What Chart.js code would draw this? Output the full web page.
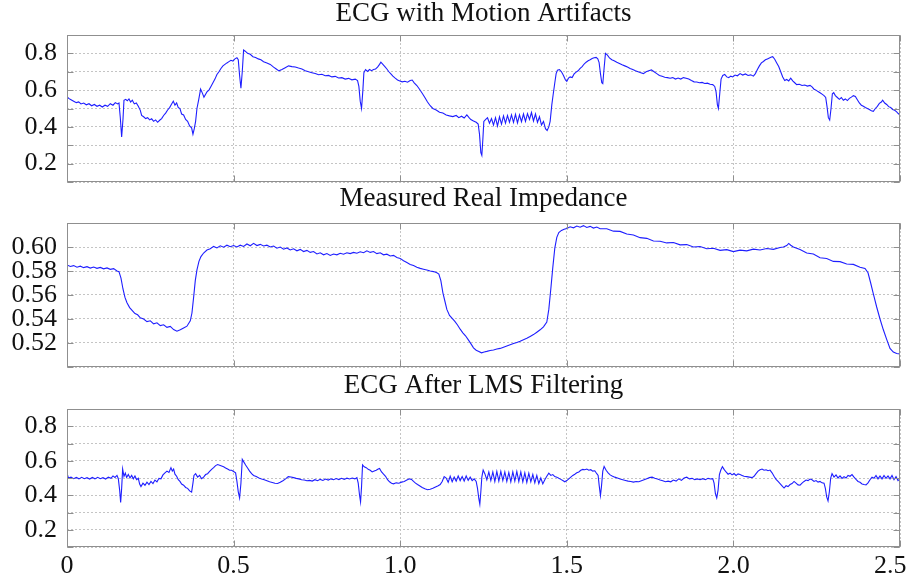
<!DOCTYPE html>
<html>
<head>
<meta charset="utf-8">
<script src="https://cdn.jsdelivr.net/npm/chart.js@4.4.1/dist/chart.umd.min.js"></script>
<style>
  html, body { margin: 0; padding: 0; background: #fff; }
  body { width: 913px; height: 588px; position: relative; overflow: hidden; }
  canvas { position: absolute; left: 0; }
</style>
</head>
<body>
<canvas id="rawChart" width="913" height="185" style="top:0px"></canvas>
<canvas id="impChart" width="913" height="185" style="top:185px"></canvas>
<canvas id="lmsChart" width="913" height="216" style="top:372px"></canvas>
<script>
// ECG with motion artifacts (time in s)
const rawTime = [0.000,0.005,0.012,0.020,0.028,0.035,0.042,0.050,0.058,0.066,0.074,0.082,0.090,0.098,0.106,0.114,0.122,0.130,0.138,0.145,0.152,0.156,0.160,0.164,0.168,0.171,0.176,0.181,0.186,0.191,0.196,0.202,0.208,0.214,0.220,0.224,0.230,0.236,0.242,0.248,0.254,0.260,0.266,0.272,0.278,0.284,0.290,0.296,0.302,0.308,0.314,0.319,0.324,0.329,0.334,0.339,0.344,0.350,0.356,0.362,0.368,0.374,0.378,0.382,0.386,0.390,0.395,0.401,0.406,0.411,0.416,0.420,0.426,0.432,0.438,0.444,0.450,0.456,0.462,0.468,0.474,0.480,0.486,0.492,0.498,0.504,0.510,0.514,0.518,0.522,0.526,0.530,0.535,0.542,0.550,0.558,0.566,0.574,0.582,0.590,0.600,0.610,0.620,0.628,0.636,0.645,0.655,0.665,0.675,0.685,0.695,0.705,0.715,0.725,0.735,0.745,0.755,0.765,0.775,0.785,0.795,0.805,0.815,0.825,0.835,0.845,0.855,0.865,0.872,0.876,0.880,0.884,0.888,0.891,0.896,0.902,0.908,0.914,0.920,0.926,0.932,0.938,0.942,0.948,0.954,0.960,0.966,0.972,0.978,0.985,0.992,0.999,1.006,1.014,1.022,1.030,1.036,1.042,1.050,1.058,1.066,1.074,1.082,1.090,1.098,1.108,1.118,1.128,1.138,1.148,1.158,1.168,1.176,1.184,1.192,1.200,1.206,1.212,1.220,1.228,1.234,1.238,1.242,1.245,1.248,1.251,1.256,1.262,1.268,1.274,1.280,1.286,1.292,1.298,1.304,1.310,1.316,1.322,1.328,1.334,1.340,1.346,1.352,1.358,1.364,1.370,1.376,1.382,1.388,1.394,1.400,1.406,1.412,1.418,1.424,1.430,1.436,1.441,1.446,1.450,1.455,1.459,1.464,1.468,1.472,1.478,1.484,1.490,1.496,1.500,1.505,1.510,1.516,1.522,1.528,1.534,1.540,1.546,1.552,1.558,1.564,1.570,1.576,1.582,1.588,1.593,1.597,1.601,1.605,1.608,1.612,1.616,1.622,1.628,1.635,1.642,1.650,1.658,1.666,1.674,1.682,1.690,1.698,1.706,1.714,1.722,1.730,1.738,1.746,1.754,1.762,1.770,1.778,1.786,1.794,1.802,1.810,1.818,1.826,1.834,1.842,1.850,1.858,1.866,1.874,1.882,1.890,1.898,1.906,1.914,1.922,1.930,1.938,1.944,1.948,1.952,1.955,1.959,1.963,1.968,1.974,1.980,1.986,1.992,1.998,2.005,2.012,2.020,2.028,2.036,2.044,2.052,2.060,2.066,2.072,2.078,2.084,2.090,2.096,2.102,2.108,2.114,2.118,2.124,2.130,2.136,2.142,2.148,2.154,2.160,2.166,2.172,2.178,2.184,2.190,2.198,2.206,2.214,2.222,2.230,2.236,2.242,2.248,2.254,2.260,2.266,2.272,2.277,2.281,2.285,2.289,2.293,2.297,2.301,2.306,2.312,2.318,2.324,2.330,2.336,2.342,2.348,2.354,2.360,2.366,2.372,2.378,2.384,2.390,2.396,2.402,2.408,2.414,2.420,2.426,2.432,2.438,2.444,2.448,2.454,2.460,2.466,2.472,2.478,2.484,2.490,2.496,2.500];
const rawEcg = [0.565,0.555,0.548,0.540,0.532,0.536,0.525,0.530,0.520,0.526,0.515,0.522,0.512,0.518,0.508,0.518,0.512,0.526,0.518,0.532,0.525,0.530,0.450,0.345,0.440,0.545,0.550,0.542,0.552,0.535,0.545,0.525,0.530,0.512,0.490,0.462,0.455,0.445,0.450,0.438,0.444,0.430,0.438,0.425,0.436,0.445,0.462,0.475,0.492,0.505,0.525,0.540,0.518,0.530,0.505,0.500,0.470,0.465,0.440,0.430,0.405,0.395,0.360,0.390,0.430,0.500,0.545,0.605,0.585,0.562,0.578,0.590,0.600,0.620,0.640,0.660,0.685,0.700,0.718,0.732,0.740,0.748,0.755,0.762,0.758,0.770,0.776,0.765,0.680,0.610,0.700,0.818,0.812,0.800,0.795,0.782,0.778,0.770,0.765,0.755,0.748,0.740,0.725,0.715,0.705,0.712,0.722,0.732,0.728,0.726,0.720,0.715,0.706,0.700,0.695,0.690,0.684,0.686,0.678,0.680,0.672,0.675,0.666,0.668,0.660,0.664,0.656,0.660,0.652,0.620,0.540,0.500,0.600,0.695,0.712,0.702,0.712,0.706,0.712,0.715,0.725,0.740,0.752,0.740,0.728,0.715,0.700,0.688,0.676,0.665,0.655,0.650,0.645,0.648,0.643,0.652,0.655,0.640,0.625,0.605,0.583,0.560,0.535,0.515,0.500,0.492,0.480,0.475,0.465,0.460,0.456,0.462,0.450,0.458,0.448,0.465,0.452,0.440,0.432,0.425,0.415,0.360,0.260,0.245,0.330,0.430,0.440,0.450,0.420,0.445,0.410,0.450,0.405,0.455,0.415,0.460,0.420,0.462,0.425,0.465,0.425,0.468,0.422,0.465,0.428,0.470,0.430,0.472,0.440,0.478,0.432,0.470,0.425,0.455,0.410,0.430,0.390,0.380,0.400,0.430,0.520,0.575,0.640,0.690,0.708,0.712,0.700,0.680,0.655,0.648,0.665,0.672,0.668,0.688,0.698,0.705,0.718,0.728,0.742,0.752,0.760,0.765,0.772,0.776,0.778,0.770,0.750,0.690,0.640,0.635,0.720,0.800,0.790,0.775,0.765,0.760,0.752,0.745,0.738,0.732,0.726,0.718,0.712,0.705,0.700,0.695,0.690,0.700,0.705,0.710,0.700,0.690,0.680,0.675,0.670,0.668,0.665,0.668,0.660,0.666,0.660,0.668,0.665,0.660,0.652,0.645,0.644,0.640,0.642,0.636,0.638,0.632,0.630,0.620,0.590,0.520,0.500,0.580,0.660,0.680,0.685,0.672,0.668,0.676,0.672,0.682,0.678,0.690,0.682,0.688,0.680,0.683,0.676,0.690,0.712,0.732,0.748,0.756,0.765,0.770,0.775,0.780,0.782,0.768,0.748,0.728,0.700,0.672,0.652,0.658,0.650,0.665,0.650,0.640,0.630,0.632,0.625,0.628,0.622,0.626,0.618,0.605,0.600,0.592,0.586,0.578,0.570,0.560,0.510,0.450,0.437,0.500,0.580,0.586,0.570,0.560,0.550,0.560,0.545,0.552,0.543,0.555,0.562,0.570,0.565,0.548,0.530,0.518,0.512,0.505,0.500,0.495,0.488,0.485,0.500,0.512,0.528,0.535,0.545,0.530,0.522,0.510,0.505,0.495,0.490,0.482,0.470,0.475];

// Measured real impedance
const impTime = [0.000,0.010,0.020,0.030,0.040,0.050,0.060,0.070,0.080,0.090,0.100,0.110,0.120,0.130,0.140,0.150,0.156,0.162,0.168,0.174,0.180,0.188,0.196,0.204,0.212,0.220,0.230,0.240,0.250,0.260,0.270,0.280,0.290,0.300,0.310,0.320,0.330,0.340,0.350,0.360,0.370,0.375,0.380,0.385,0.390,0.396,0.402,0.410,0.420,0.430,0.440,0.450,0.460,0.470,0.480,0.490,0.500,0.510,0.520,0.530,0.540,0.550,0.560,0.570,0.580,0.590,0.600,0.610,0.620,0.630,0.640,0.650,0.660,0.670,0.680,0.690,0.700,0.710,0.720,0.730,0.740,0.750,0.760,0.770,0.780,0.790,0.800,0.810,0.820,0.830,0.840,0.850,0.860,0.870,0.880,0.890,0.900,0.910,0.920,0.930,0.940,0.950,0.960,0.970,0.980,0.990,1.000,1.010,1.020,1.030,1.040,1.050,1.060,1.070,1.080,1.090,1.100,1.110,1.116,1.122,1.128,1.134,1.140,1.148,1.156,1.164,1.172,1.180,1.188,1.196,1.204,1.212,1.220,1.228,1.236,1.244,1.252,1.260,1.270,1.280,1.290,1.300,1.310,1.320,1.330,1.340,1.350,1.360,1.370,1.380,1.390,1.400,1.410,1.420,1.430,1.440,1.446,1.452,1.458,1.464,1.470,1.476,1.484,1.492,1.500,1.510,1.520,1.530,1.540,1.550,1.560,1.570,1.580,1.590,1.600,1.620,1.640,1.660,1.680,1.700,1.720,1.740,1.760,1.780,1.800,1.820,1.840,1.860,1.880,1.900,1.920,1.940,1.960,1.980,2.000,2.020,2.040,2.060,2.080,2.100,2.120,2.140,2.150,2.160,2.166,2.172,2.180,2.200,2.220,2.240,2.260,2.280,2.300,2.320,2.340,2.360,2.380,2.395,2.404,2.412,2.420,2.430,2.440,2.450,2.460,2.470,2.480,2.490,2.500];
const impVal = [0.5850,0.5838,0.5845,0.5832,0.5840,0.5828,0.5836,0.5824,0.5833,0.5822,0.5830,0.5818,0.5826,0.5814,0.5820,0.5800,0.5795,0.5740,0.5650,0.5580,0.5535,0.5495,0.5470,0.5445,0.5435,0.5410,0.5400,0.5378,0.5385,0.5360,0.5368,0.5345,0.5352,0.5330,0.5338,0.5312,0.5298,0.5310,0.5325,0.5340,0.5385,0.5450,0.5580,0.5720,0.5810,0.5880,0.5920,0.5950,0.5975,0.5985,0.6005,0.5992,0.6010,0.5998,0.6015,0.6002,0.6012,0.6000,0.6015,0.6005,0.6025,0.6010,0.6030,0.6012,0.6022,0.6008,0.6015,0.6000,0.6008,0.5990,0.6000,0.5982,0.5992,0.5975,0.5985,0.5968,0.5980,0.5962,0.5972,0.5955,0.5962,0.5942,0.5952,0.5935,0.5945,0.5930,0.5942,0.5935,0.5948,0.5940,0.5952,0.5945,0.5955,0.5948,0.5960,0.5952,0.5968,0.5955,0.5962,0.5945,0.5952,0.5935,0.5940,0.5925,0.5930,0.5912,0.5905,0.5885,0.5870,0.5855,0.5845,0.5832,0.5822,0.5815,0.5808,0.5800,0.5795,0.5785,0.5775,0.5720,0.5620,0.5550,0.5480,0.5430,0.5405,0.5380,0.5350,0.5315,0.5285,0.5260,0.5228,0.5195,0.5160,0.5140,0.5130,0.5118,0.5125,0.5130,0.5138,0.5142,0.5150,0.5155,0.5165,0.5175,0.5185,0.5195,0.5205,0.5215,0.5228,0.5240,0.5255,0.5270,0.5290,0.5310,0.5335,0.5375,0.5480,0.5650,0.5830,0.5990,0.6080,0.6120,0.6138,0.6148,0.6155,0.6168,0.6160,0.6175,0.6165,0.6178,0.6163,0.6172,0.6158,0.6166,0.6152,0.6152,0.6132,0.6130,0.6108,0.6100,0.6078,0.6072,0.6050,0.6048,0.6034,0.6038,0.6018,0.6020,0.6000,0.6004,0.5986,0.5990,0.5972,0.5978,0.5962,0.5974,0.5968,0.5982,0.5975,0.5988,0.5980,0.5996,0.6000,0.6012,0.6030,0.6015,0.6000,0.5980,0.5950,0.5942,0.5910,0.5904,0.5880,0.5878,0.5858,0.5855,0.5832,0.5822,0.5785,0.5700,0.5610,0.5500,0.5400,0.5310,0.5230,0.5155,0.5125,0.5112,0.5108];

// ECG after LMS filtering
const lmsTime = [0.000,0.004,0.012,0.020,0.028,0.036,0.044,0.052,0.060,0.068,0.076,0.084,0.092,0.100,0.108,0.116,0.124,0.132,0.138,0.144,0.150,0.154,0.158,0.161,0.164,0.167,0.171,0.175,0.179,0.184,0.189,0.194,0.199,0.204,0.209,0.214,0.218,0.222,0.228,0.234,0.240,0.246,0.252,0.258,0.264,0.270,0.276,0.282,0.288,0.294,0.300,0.306,0.312,0.316,0.320,0.324,0.329,0.334,0.339,0.344,0.350,0.356,0.362,0.368,0.374,0.378,0.381,0.386,0.392,0.398,0.404,0.410,0.416,0.422,0.428,0.434,0.440,0.446,0.452,0.458,0.464,0.470,0.476,0.482,0.488,0.494,0.500,0.506,0.510,0.514,0.518,0.522,0.526,0.530,0.536,0.542,0.548,0.554,0.560,0.568,0.576,0.584,0.592,0.600,0.608,0.616,0.624,0.632,0.640,0.648,0.656,0.664,0.672,0.680,0.688,0.696,0.704,0.712,0.720,0.728,0.736,0.744,0.752,0.760,0.768,0.776,0.784,0.792,0.800,0.808,0.816,0.824,0.832,0.840,0.848,0.856,0.864,0.870,0.874,0.878,0.881,0.884,0.887,0.892,0.898,0.904,0.910,0.916,0.922,0.928,0.934,0.938,0.944,0.950,0.956,0.962,0.968,0.974,0.980,0.988,0.996,1.004,1.012,1.020,1.028,1.034,1.040,1.046,1.052,1.058,1.066,1.074,1.082,1.090,1.098,1.106,1.114,1.120,1.126,1.132,1.138,1.144,1.150,1.156,1.162,1.168,1.174,1.180,1.186,1.192,1.198,1.204,1.210,1.216,1.222,1.228,1.232,1.236,1.239,1.242,1.245,1.249,1.254,1.260,1.266,1.272,1.278,1.284,1.290,1.296,1.302,1.308,1.314,1.320,1.326,1.332,1.338,1.344,1.350,1.356,1.362,1.368,1.374,1.380,1.386,1.392,1.398,1.404,1.410,1.416,1.422,1.428,1.434,1.440,1.446,1.452,1.458,1.464,1.470,1.476,1.482,1.488,1.494,1.500,1.506,1.512,1.518,1.524,1.530,1.536,1.542,1.548,1.554,1.560,1.566,1.572,1.578,1.584,1.590,1.594,1.597,1.601,1.604,1.608,1.612,1.618,1.624,1.630,1.636,1.644,1.652,1.660,1.668,1.676,1.684,1.692,1.700,1.708,1.716,1.724,1.732,1.740,1.748,1.756,1.764,1.772,1.780,1.788,1.796,1.804,1.812,1.820,1.828,1.836,1.844,1.852,1.860,1.868,1.876,1.884,1.892,1.900,1.908,1.916,1.924,1.932,1.938,1.942,1.946,1.950,1.954,1.958,1.962,1.967,1.972,1.978,1.984,1.990,1.996,2.002,2.008,2.014,2.020,2.026,2.032,2.040,2.048,2.056,2.062,2.068,2.074,2.080,2.086,2.092,2.098,2.104,2.110,2.116,2.122,2.128,2.134,2.140,2.146,2.152,2.158,2.164,2.170,2.176,2.182,2.188,2.194,2.200,2.206,2.212,2.218,2.224,2.230,2.236,2.242,2.248,2.254,2.260,2.266,2.272,2.276,2.280,2.284,2.288,2.292,2.296,2.302,2.308,2.314,2.320,2.326,2.332,2.338,2.344,2.350,2.356,2.362,2.368,2.374,2.380,2.386,2.392,2.398,2.404,2.410,2.416,2.422,2.428,2.434,2.440,2.446,2.452,2.458,2.464,2.470,2.476,2.482,2.488,2.494,2.500];
const lmsEcg = [0.530,0.500,0.505,0.496,0.503,0.495,0.504,0.496,0.502,0.494,0.503,0.495,0.504,0.496,0.502,0.494,0.505,0.498,0.512,0.503,0.515,0.496,0.430,0.358,0.440,0.552,0.510,0.528,0.503,0.520,0.500,0.515,0.495,0.512,0.490,0.498,0.465,0.450,0.470,0.458,0.476,0.462,0.480,0.468,0.488,0.478,0.498,0.495,0.518,0.530,0.540,0.532,0.560,0.540,0.552,0.522,0.510,0.490,0.480,0.465,0.458,0.445,0.440,0.425,0.418,0.470,0.515,0.525,0.505,0.515,0.496,0.505,0.520,0.525,0.538,0.550,0.560,0.572,0.578,0.574,0.570,0.565,0.558,0.552,0.545,0.545,0.538,0.530,0.480,0.420,0.385,0.470,0.608,0.595,0.575,0.558,0.540,0.525,0.515,0.508,0.500,0.494,0.490,0.484,0.478,0.474,0.470,0.468,0.475,0.484,0.495,0.508,0.506,0.502,0.498,0.495,0.490,0.488,0.484,0.486,0.482,0.490,0.484,0.492,0.486,0.494,0.488,0.495,0.490,0.497,0.491,0.498,0.492,0.499,0.494,0.500,0.495,0.502,0.470,0.400,0.362,0.450,0.576,0.565,0.560,0.550,0.545,0.535,0.540,0.545,0.552,0.555,0.535,0.522,0.510,0.490,0.478,0.470,0.466,0.472,0.470,0.476,0.480,0.488,0.495,0.492,0.480,0.470,0.462,0.455,0.445,0.438,0.432,0.435,0.440,0.448,0.455,0.462,0.480,0.508,0.500,0.475,0.510,0.478,0.505,0.482,0.512,0.485,0.508,0.482,0.512,0.486,0.505,0.485,0.495,0.480,0.440,0.380,0.348,0.420,0.505,0.546,0.525,0.490,0.535,0.485,0.535,0.480,0.538,0.482,0.538,0.485,0.535,0.480,0.532,0.478,0.535,0.482,0.538,0.480,0.535,0.478,0.530,0.475,0.528,0.478,0.520,0.472,0.515,0.468,0.500,0.466,0.490,0.510,0.528,0.515,0.520,0.508,0.505,0.498,0.492,0.485,0.478,0.485,0.495,0.505,0.515,0.522,0.530,0.535,0.545,0.550,0.548,0.552,0.545,0.548,0.540,0.542,0.525,0.515,0.460,0.398,0.450,0.540,0.567,0.545,0.530,0.518,0.512,0.505,0.500,0.494,0.490,0.486,0.482,0.480,0.476,0.480,0.478,0.484,0.490,0.496,0.502,0.505,0.498,0.494,0.488,0.484,0.478,0.482,0.478,0.488,0.482,0.495,0.486,0.500,0.505,0.495,0.498,0.490,0.495,0.490,0.496,0.490,0.498,0.494,0.496,0.470,0.410,0.385,0.430,0.520,0.545,0.566,0.550,0.535,0.522,0.528,0.518,0.526,0.515,0.524,0.520,0.515,0.510,0.508,0.505,0.502,0.510,0.525,0.540,0.548,0.552,0.545,0.548,0.542,0.546,0.530,0.510,0.492,0.480,0.468,0.455,0.442,0.455,0.450,0.462,0.468,0.480,0.470,0.460,0.458,0.470,0.480,0.488,0.485,0.494,0.490,0.480,0.485,0.476,0.480,0.472,0.470,0.440,0.390,0.367,0.420,0.500,0.525,0.505,0.518,0.500,0.512,0.498,0.508,0.500,0.515,0.510,0.520,0.505,0.492,0.480,0.475,0.465,0.462,0.460,0.472,0.490,0.505,0.498,0.515,0.495,0.512,0.495,0.515,0.498,0.512,0.495,0.515,0.490,0.508,0.485,0.495];

const xTicks = [0, 0.5, 1.0, 1.5, 2.0, 2.5];

const serif = "'Liberation Serif', 'Times New Roman', 'DejaVu Serif', serif";

function pairs(ts, vs) {
  return ts.map((t, i) => ({ x: t, y: vs[i] }));
}

// box round the plot + short inward tick marks, matlab style
const frameTicks = {
  id: "frameTicks",
  afterDraw(chart) {
    const { ctx, chartArea: a, scales } = chart;
    const L = Math.round(a.left) + 0.5, R = Math.round(a.right) - 0.5;
    const T = Math.round(a.top) + 0.5, B = Math.round(a.bottom) - 0.5;
    ctx.save();
    ctx.strokeStyle = "#8f8f8f";
    ctx.lineWidth = 1;
    ctx.beginPath();
    scales.y.ticks.forEach(t => {
      const y = Math.round(scales.y.getPixelForValue(t.value)) + 0.5;
      ctx.moveTo(L, y); ctx.lineTo(L + 6, y);
      ctx.moveTo(R, y); ctx.lineTo(R - 6, y);
    });
    scales.x.ticks.forEach(t => {
      const x = Math.round(scales.x.getPixelForValue(t.value)) + 0.5;
      ctx.moveTo(x, T); ctx.lineTo(x, T + 6);
      ctx.moveTo(x, B); ctx.lineTo(x, B - 6);
    });
    ctx.stroke();
    ctx.strokeRect(L, T, R - L, B - T);
    ctx.restore();
  }
};

function makeChart(id, ts, vs, o) {
  const ctx = document.getElementById(id).getContext("2d");
  return new Chart(ctx, {
    type: "line",
    data: {
      datasets: [{
        data: pairs(ts, vs),
        borderColor: "rgb(30,30,255)",
        borderWidth: 1.1,
        pointRadius: 0,
        fill: false,
        tension: 0
      }]
    },
    options: {
      responsive: false,
      animation: false,
      devicePixelRatio: 1,
      layout: { padding: { top: 0, right: 13, bottom: 3, left: 0 } },
      plugins: {
        legend: { display: false },
        tooltip: { enabled: false },
        title: {
          display: true,
          text: o.title,
          fullSize: false,
          color: "#111",
          font: { family: serif, size: 27, weight: "normal", lineHeight: 1 },
          padding: { top: 0, bottom: o.titleGap }
        }
      },
      scales: {
        x: {
          type: "linear",
          min: 0,
          max: 2.5,
          afterBuildTicks: s => { s.ticks = xTicks.map(v => ({ value: v })); },
          afterFit: s => { s.paddingLeft = 0; s.paddingRight = 0; },
          grid: { color: "#c4c4c4", drawTicks: false },
          border: { display: false, dash: [2, 2] },
          ticks: {
            display: o.showX,
            autoSkip: false,
            maxRotation: 0,
            padding: 6,
            color: "#111",
            font: { family: serif, size: 26, lineHeight: 1 },
            // last label pulled a little inside the page, as in the original
            callback: v => (v === 0 ? "0" : v === 2.5 ? "2.5   " : v.toFixed(1))
          }
        },
        y: {
          min: o.yMin,
          max: o.yMax,
          afterFit: s => { s.width = 67; s.paddingTop = 0; s.paddingBottom = 0; },
          grid: { color: "#c4c4c4", drawTicks: false },
          border: { display: false, dash: [2, 2] },
          ticks: {
            stepSize: o.yStep,
            autoSkip: false,
            padding: 10,
            color: "#111",
            font: { family: serif, size: 26, lineHeight: 1.2 },
            callback: o.yLabel
          }
        }
      }
    },
    plugins: [frameTicks]
  });
}

document.addEventListener("DOMContentLoaded", () => {
  // labels only on every second gridline
  const evenTenths = v => {
    const k = Math.round(v * 10);
    return (k % 2 === 0 && k > 1 && k < 9) ? (k / 10).toFixed(1) : "";
  };
  const impLabel = v => {
    const k = Math.round(v * 100);
    return (k > 50 && k < 62) ? (k / 100).toFixed(2) : "";
  };

  makeChart("rawChart", rawTime, rawEcg, {
    title: "ECG with Motion Artifacts", titleGap: 8,
    yMin: 0.1, yMax: 0.9, yStep: 0.1, yLabel: evenTenths, showX: false
  });
  makeChart("impChart", impTime, impVal, {
    title: "Measured Real Impedance", titleGap: 11,
    yMin: 0.50, yMax: 0.62, yStep: 0.02, yLabel: impLabel, showX: false
  });
  makeChart("lmsChart", lmsTime, lmsEcg, {
    title: "ECG After LMS Filtering", titleGap: 10,
    yMin: 0.1, yMax: 0.9, yStep: 0.1, yLabel: evenTenths, showX: true
  });
});
</script>
</body>
</html>
